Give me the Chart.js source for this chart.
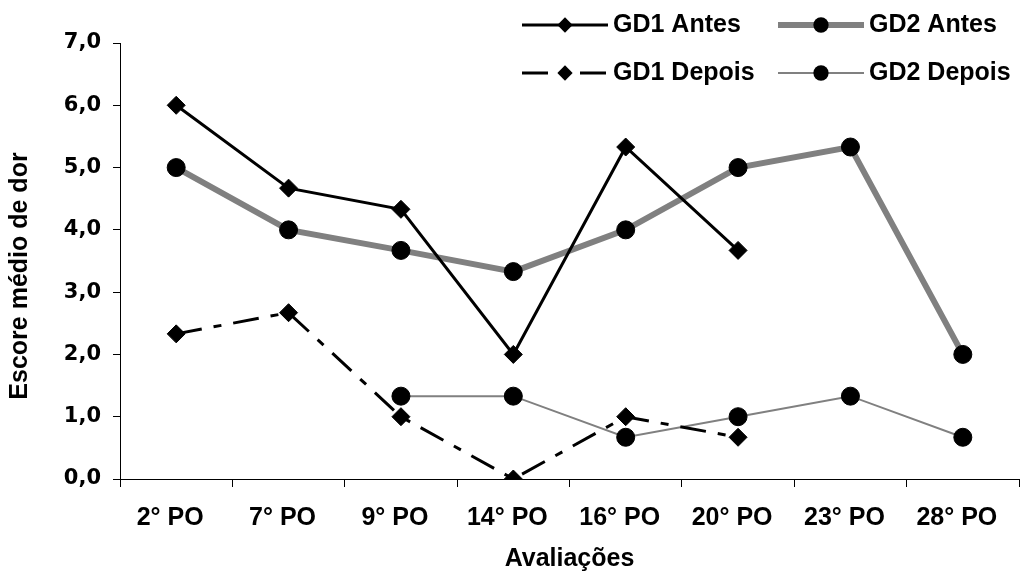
<!DOCTYPE html>
<html><head><meta charset="utf-8">
<script src="https://cdn.jsdelivr.net/npm/chart.js@4.4.0/dist/chart.umd.min.js"></script>
<style>html,body{margin:0;padding:0;background:#fff;overflow:hidden}#wrap{width:1021px;height:574px;position:relative}</style>
</head><body><div id="wrap"><canvas id="c"></canvas></div>
<script>
const categories = ['2° PO','7° PO','9° PO','14° PO','16° PO','20° PO','23° PO','28° PO'];
const gd1Antes  = [6.0, 4.67, 4.33, 2.0, 5.33, 3.67, null, null];
const gd2Antes  = [5.0, 4.0, 3.67, 3.33, 4.0, 5.0, 5.33, 2.0];
const gd1Depois = [2.33, 2.67, 1.0, 0.0, 1.0, 0.67, null, null];
const gd2Depois = [null, null, 1.33, 1.33, 0.67, 1.0, 1.33, 0.67];
const seriesNames = ['GD1 Antes', 'GD2 Antes', 'GD1 Depois', 'GD2 Depois'];
const yTicks = [0, 1, 2, 3, 4, 5, 6, 7];
const yTitle = 'Escore médio de dor';
const xTitle = 'Avaliações';

const ARIAL = '"Liberation Sans", Arial, sans-serif';

const cornerLegend = {
  id: 'cornerLegend',
  afterDraw(chart) {
    const ctx = chart.ctx;
    const slots = [[522, 25], [778, 25], [522, 73], [778, 73]];
    const len = 86;
    chart.data.datasets.forEach((ds, i) => {
      const [x0, y] = slots[i];
      ctx.save();
      ctx.strokeStyle = ds.borderColor;
      ctx.lineWidth = ds.borderWidth;
      ctx.setLineDash(ds.borderDash || []);
      ctx.beginPath(); ctx.moveTo(x0, y); ctx.lineTo(x0 + len, y); ctx.stroke();
      ctx.setLineDash([]);
      const cx = x0 + len / 2, r = ds.pointRadius * 0.85;
      ctx.fillStyle = ds.pointBackgroundColor;
      ctx.beginPath();
      if (ds.pointStyle === 'rectRot') {
        ctx.moveTo(cx, y - r); ctx.lineTo(cx + r, y); ctx.lineTo(cx, y + r); ctx.lineTo(cx - r, y); ctx.closePath();
      } else {
        ctx.arc(cx, y, r, 0, Math.PI * 2);
      }
      ctx.fill();
      ctx.fillStyle = '#000';
      ctx.font = 'bold 25px ' + ARIAL;
      ctx.textBaseline = 'middle';
      ctx.textAlign = 'left';
      ctx.fillText(ds.label, x0 + len + 5, y);
      ctx.restore();
    });
    // y axis title, centred a little below the plot middle as in the original
    ctx.save();
    ctx.translate(20, (chart.chartArea.top + chart.chartArea.bottom) / 2 + 15);
    ctx.rotate(-Math.PI / 2);
    ctx.fillStyle = '#000';
    ctx.font = 'bold 25px ' + ARIAL;
    ctx.textAlign = 'center';
    ctx.textBaseline = 'middle';
    ctx.fillText(yTitle, 0, 0);
    ctx.restore();
  }
};

const mk = (label, data, color, width, style, radius, dash) => ({
  label, data,
  borderColor: color, borderWidth: width, borderDash: dash || [],
  pointStyle: style, pointRadius: radius, pointHoverRadius: radius,
  pointBackgroundColor: '#000', pointBorderColor: '#000', pointBorderWidth: 1,
  tension: 0, fill: false, spanGaps: false
});

new Chart(document.getElementById('c'), {
  type: 'line',
  data: {
    labels: categories,
    datasets: [
      mk(seriesNames[0], gd1Antes, '#000000', 3, 'rectRot', 9),
      mk(seriesNames[1], gd2Antes, '#808080', 6, 'circle', 9),
      mk(seriesNames[2], gd1Depois, '#000000', 3, 'rectRot', 9, [26, 12, 8, 12]),
      mk(seriesNames[3], gd2Depois, '#808080', 2, 'circle', 9)
    ]
  },
  options: {
    responsive: true, maintainAspectRatio: false, animation: false,
    layout: { autoPadding: false, padding: { top: 43, right: 2, left: 0, bottom: 0 } },
    plugins: { legend: { display: false }, tooltip: { enabled: false } },
    scales: {
      x: {
        type: 'category', offset: true,
        grid: { display: true, drawOnChartArea: false, drawTicks: true, tickLength: 8, color: '#000', offset: true },
        border: { display: true, color: '#000', width: 1 },
        ticks: { color: '#000', font: { family: ARIAL, size: 25, weight: 'bold' }, padding: 16, labelOffset: -6, maxRotation: 0, autoSkip: false },
        title: { display: true, text: xTitle, color: '#000', font: { family: ARIAL, size: 25, weight: 'bold' }, padding: { top: 0, bottom: 0 } },
        afterFit(s) { s.height = 95; s.paddingLeft = 0; s.paddingRight = 0; }
      },
      y: {
        min: 0, max: 7,
        afterBuildTicks(s) { s.ticks = yTicks.map(v => ({ value: v })); },
        grid: { drawOnChartArea: false, drawTicks: true, tickLength: 7, color: '#000' },
        border: { display: true, color: '#000', width: 1 },
        ticks: { color: '#000', font: { family: '"DejaVu Sans", sans-serif', size: 21, weight: 'bold' }, padding: 12,
                 callback: v => v.toFixed(1).replace('.', ',') },
        title: { display: false, text: yTitle },
        afterFit(s) { s.width = 120; s.paddingTop = 0; s.paddingBottom = 0; }
      }
    }
  },
  plugins: [cornerLegend]
});
</script>
</body></html>
